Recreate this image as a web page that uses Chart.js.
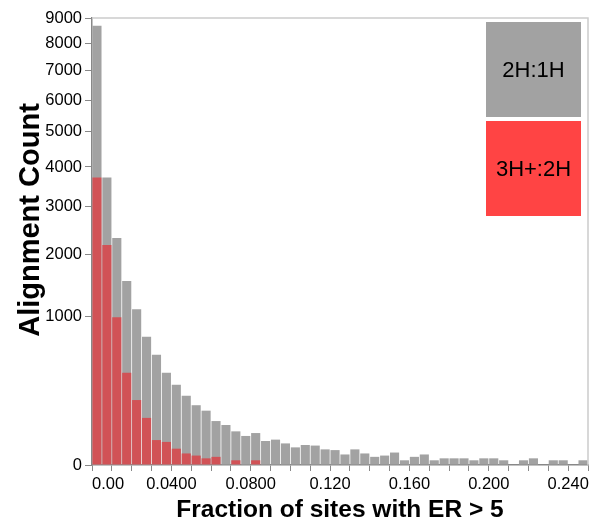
<!DOCTYPE html>
<html>
<head>
<meta charset="utf-8">
<script src="https://cdn.jsdelivr.net/npm/chart.js@4/dist/chart.umd.min.js"></script>
<style>
  html, body { margin: 0; padding: 0; background: #ffffff; }
  #wrap { width: 597px; height: 527px; }
</style>
</head>
<body>
<div id="wrap"><canvas id="c" width="597" height="527"></canvas></div>
<script>
// ---- data ----
const seriesNames = ['2H:1H', '3H+:2H'];
const binStarts = [
  0.000, 0.005, 0.010, 0.015, 0.020, 0.025, 0.030, 0.035, 0.040, 0.045,
  0.050, 0.055, 0.060, 0.065, 0.070, 0.075, 0.080, 0.085, 0.090, 0.095,
  0.100, 0.105, 0.110, 0.115, 0.120, 0.125, 0.130, 0.135, 0.140, 0.145,
  0.150, 0.155, 0.160, 0.165, 0.170, 0.175, 0.180, 0.185, 0.190, 0.195,
  0.200, 0.205, 0.210, 0.215, 0.220, 0.225, 0.230, 0.235, 0.240, 0.245
];
const binWidth = 0.005;
const counts2H1H = [
  8690, 3720, 2320, 1525, 1092, 741, 548, 384, 290, 216,
  161, 133, 87, 72, 51, 38, 46, 26, 29, 21,
  14, 18, 17, 11, 10, 5, 11, 6, 3, 4,
  7, 1, 3, 5, 1, 2, 2, 2, 1, 2,
  2, 1, 0, 1, 2, 0, 1, 1, 0, 1
];
const counts3H2H = [
  3720, 2180, 982, 384, 190, 100, 28, 24, 12, 6,
  4, 2, 3, 0, 1, 0, 1, 0, 0, 0,
  0, 0, 0, 0, 0, 0, 0, 0, 0, 0,
  0, 0, 0, 0, 0, 0, 0, 0, 0, 0,
  0, 0, 0, 0, 0, 0, 0, 0, 0, 0
];
const yTicks = [0, 1000, 2000, 3000, 4000, 5000, 6000, 7000, 8000, 9000];
const xTickValues = [0, 0.01, 0.02, 0.03, 0.04, 0.05, 0.06, 0.07, 0.08, 0.09,
  0.10, 0.11, 0.12, 0.13, 0.14, 0.15, 0.16, 0.17, 0.18, 0.19,
  0.20, 0.21, 0.22, 0.23, 0.24, 0.25];
const xLabelValues = [0, 0.04, 0.08, 0.12, 0.16, 0.20, 0.24];
const xLabelTexts = ['0.00', '0.0400', '0.0800', '0.120', '0.160', '0.200', '0.240'];
const xTitle = 'Fraction of sites with ER > 5';
const yTitle = 'Alignment Count';

// ---- styles ----
const GRAY = '#a2a2a2';
const RED_BAR = '#d15256';
const RED_LEGEND = '#ff4444';
const AXIS = '#888888';
const FONT = '"Liberation Sans", Arial, Helvetica, sans-serif';

// ---- square-root scale ----
class SqrtScale extends Chart.LinearScale {
  getPixelForValue(value) {
    if (value === null || value === undefined || isNaN(value)) return NaN;
    const lo = Math.sqrt(Math.max(0, this.min));
    const hi = Math.sqrt(Math.max(0, this.max));
    const v = Math.sqrt(Math.max(0, value));
    return this.getPixelForDecimal((v - lo) / (hi - lo));
  }
  getValueForPixel(pixel) {
    const lo = Math.sqrt(Math.max(0, this.min));
    const hi = Math.sqrt(Math.max(0, this.max));
    const s = lo + this.getDecimalForPixel(pixel) * (hi - lo);
    return s * s;
  }
}
SqrtScale.id = 'sqrt';
SqrtScale.defaults = {};
Chart.register(SqrtScale);

const mkPoints = (vals) => vals.map((v, i) => ({ x: binStarts[i] + binWidth / 2, y: v }));

const framePlugin = {
  id: 'frame',
  afterDraw(chart) {
    const { ctx, chartArea: a } = chart;
    ctx.save();
    ctx.strokeStyle = '#cccccc';
    ctx.lineWidth = 1.5;
    ctx.beginPath();
    ctx.moveTo(a.left, a.top);
    ctx.lineTo(a.right, a.top);
    ctx.lineTo(a.right, a.bottom);
    ctx.stroke();
    ctx.restore();
  }
};

const titlesPlugin = {
  id: 'axisTitles',
  afterDraw(chart) {
    const { ctx, chartArea: a } = chart;
    ctx.save();
    ctx.fillStyle = '#000000';
    ctx.font = 'bold 24.5px ' + FONT;
    ctx.textAlign = 'center';
    ctx.textBaseline = 'alphabetic';
    ctx.fillText(xTitle, (a.left + a.right) / 2, 517);
    ctx.translate(39, 220);
    ctx.rotate(-Math.PI / 2);
    ctx.font = 'bold 29px ' + FONT;
    ctx.fillText(yTitle, 0, 0);
    ctx.restore();
  }
};

const legendPlugin = {
  id: 'boxLegend',
  afterDraw(chart) {
    const { ctx } = chart;
    const boxes = [
      { label: seriesNames[0], color: GRAY, x: 486, y: 22, w: 95, h: 95 },
      { label: seriesNames[1], color: RED_LEGEND, x: 486, y: 121, w: 95, h: 95 }
    ];
    ctx.save();
    boxes.forEach(b => {
      ctx.fillStyle = b.color;
      ctx.fillRect(b.x, b.y, b.w, b.h);
      ctx.fillStyle = '#000000';
      ctx.font = '22px ' + FONT;
      ctx.textAlign = 'center';
      ctx.textBaseline = 'middle';
      ctx.fillText(b.label, b.x + b.w / 2, b.y + b.h / 2 + 1);
    });
    ctx.restore();
  }
};

new Chart(document.getElementById('c'), {
  type: 'bar',
  data: {
    datasets: [
      { label: seriesNames[1], data: mkPoints(counts3H2H), backgroundColor: RED_BAR,
        grouped: false, barPercentage: 0.92, categoryPercentage: 1.0, order: 0 },
      { label: seriesNames[0], data: mkPoints(counts2H1H), backgroundColor: GRAY,
        grouped: false, barPercentage: 0.92, categoryPercentage: 1.0, order: 1 }
    ]
  },
  options: {
    responsive: false,
    animation: false,
    devicePixelRatio: 1,
    layout: { padding: { top: 18, right: 9, left: 0, bottom: 0 } },
    plugins: { legend: { display: false }, tooltip: { enabled: false } },
    scales: {
      x: {
        type: 'linear',
        min: 0,
        max: 0.25,
        offset: false,
        z: 1,
        afterBuildTicks(scale) { scale.ticks = xTickValues.map(v => ({ value: v })); },
        afterFit(scale) { scale.height = 62; },
        grid: { offset: false, drawOnChartArea: false, drawTicks: true, tickLength: 6, color: AXIS, lineWidth: 1 },
        border: { display: true, color: AXIS, width: 1.5 },
        ticks: {
          autoSkip: false,
          maxRotation: 0,
          minRotation: 0,
          align: 'inner',
          padding: 4,
          color: '#000000',
          font: { family: FONT, size: 16.5 },
          callback(value) {
            const k = xLabelValues.findIndex(v => Math.abs(v - value) < 1e-9);
            return k >= 0 ? xLabelTexts[k] : '';
          }
        },
        title: { display: false }
      },
      y: {
        type: 'sqrt',
        min: 0,
        max: 9000,
        z: 1,
        afterBuildTicks(scale) { scale.ticks = yTicks.map(v => ({ value: v })); },
        afterFit(scale) { scale.width = 92; },
        grid: { drawOnChartArea: false, drawTicks: true, tickLength: 7, color: AXIS, lineWidth: 1 },
        border: { display: true, color: AXIS, width: 1.5 },
        ticks: {
          autoSkip: false,
          padding: 3,
          color: '#000000',
          font: { family: FONT, size: 16.5 },
          callback(value) { return String(value); }
        },
        title: { display: false }
      }
    }
  },
  plugins: [framePlugin, titlesPlugin, legendPlugin]
});
</script>
</body>
</html>
